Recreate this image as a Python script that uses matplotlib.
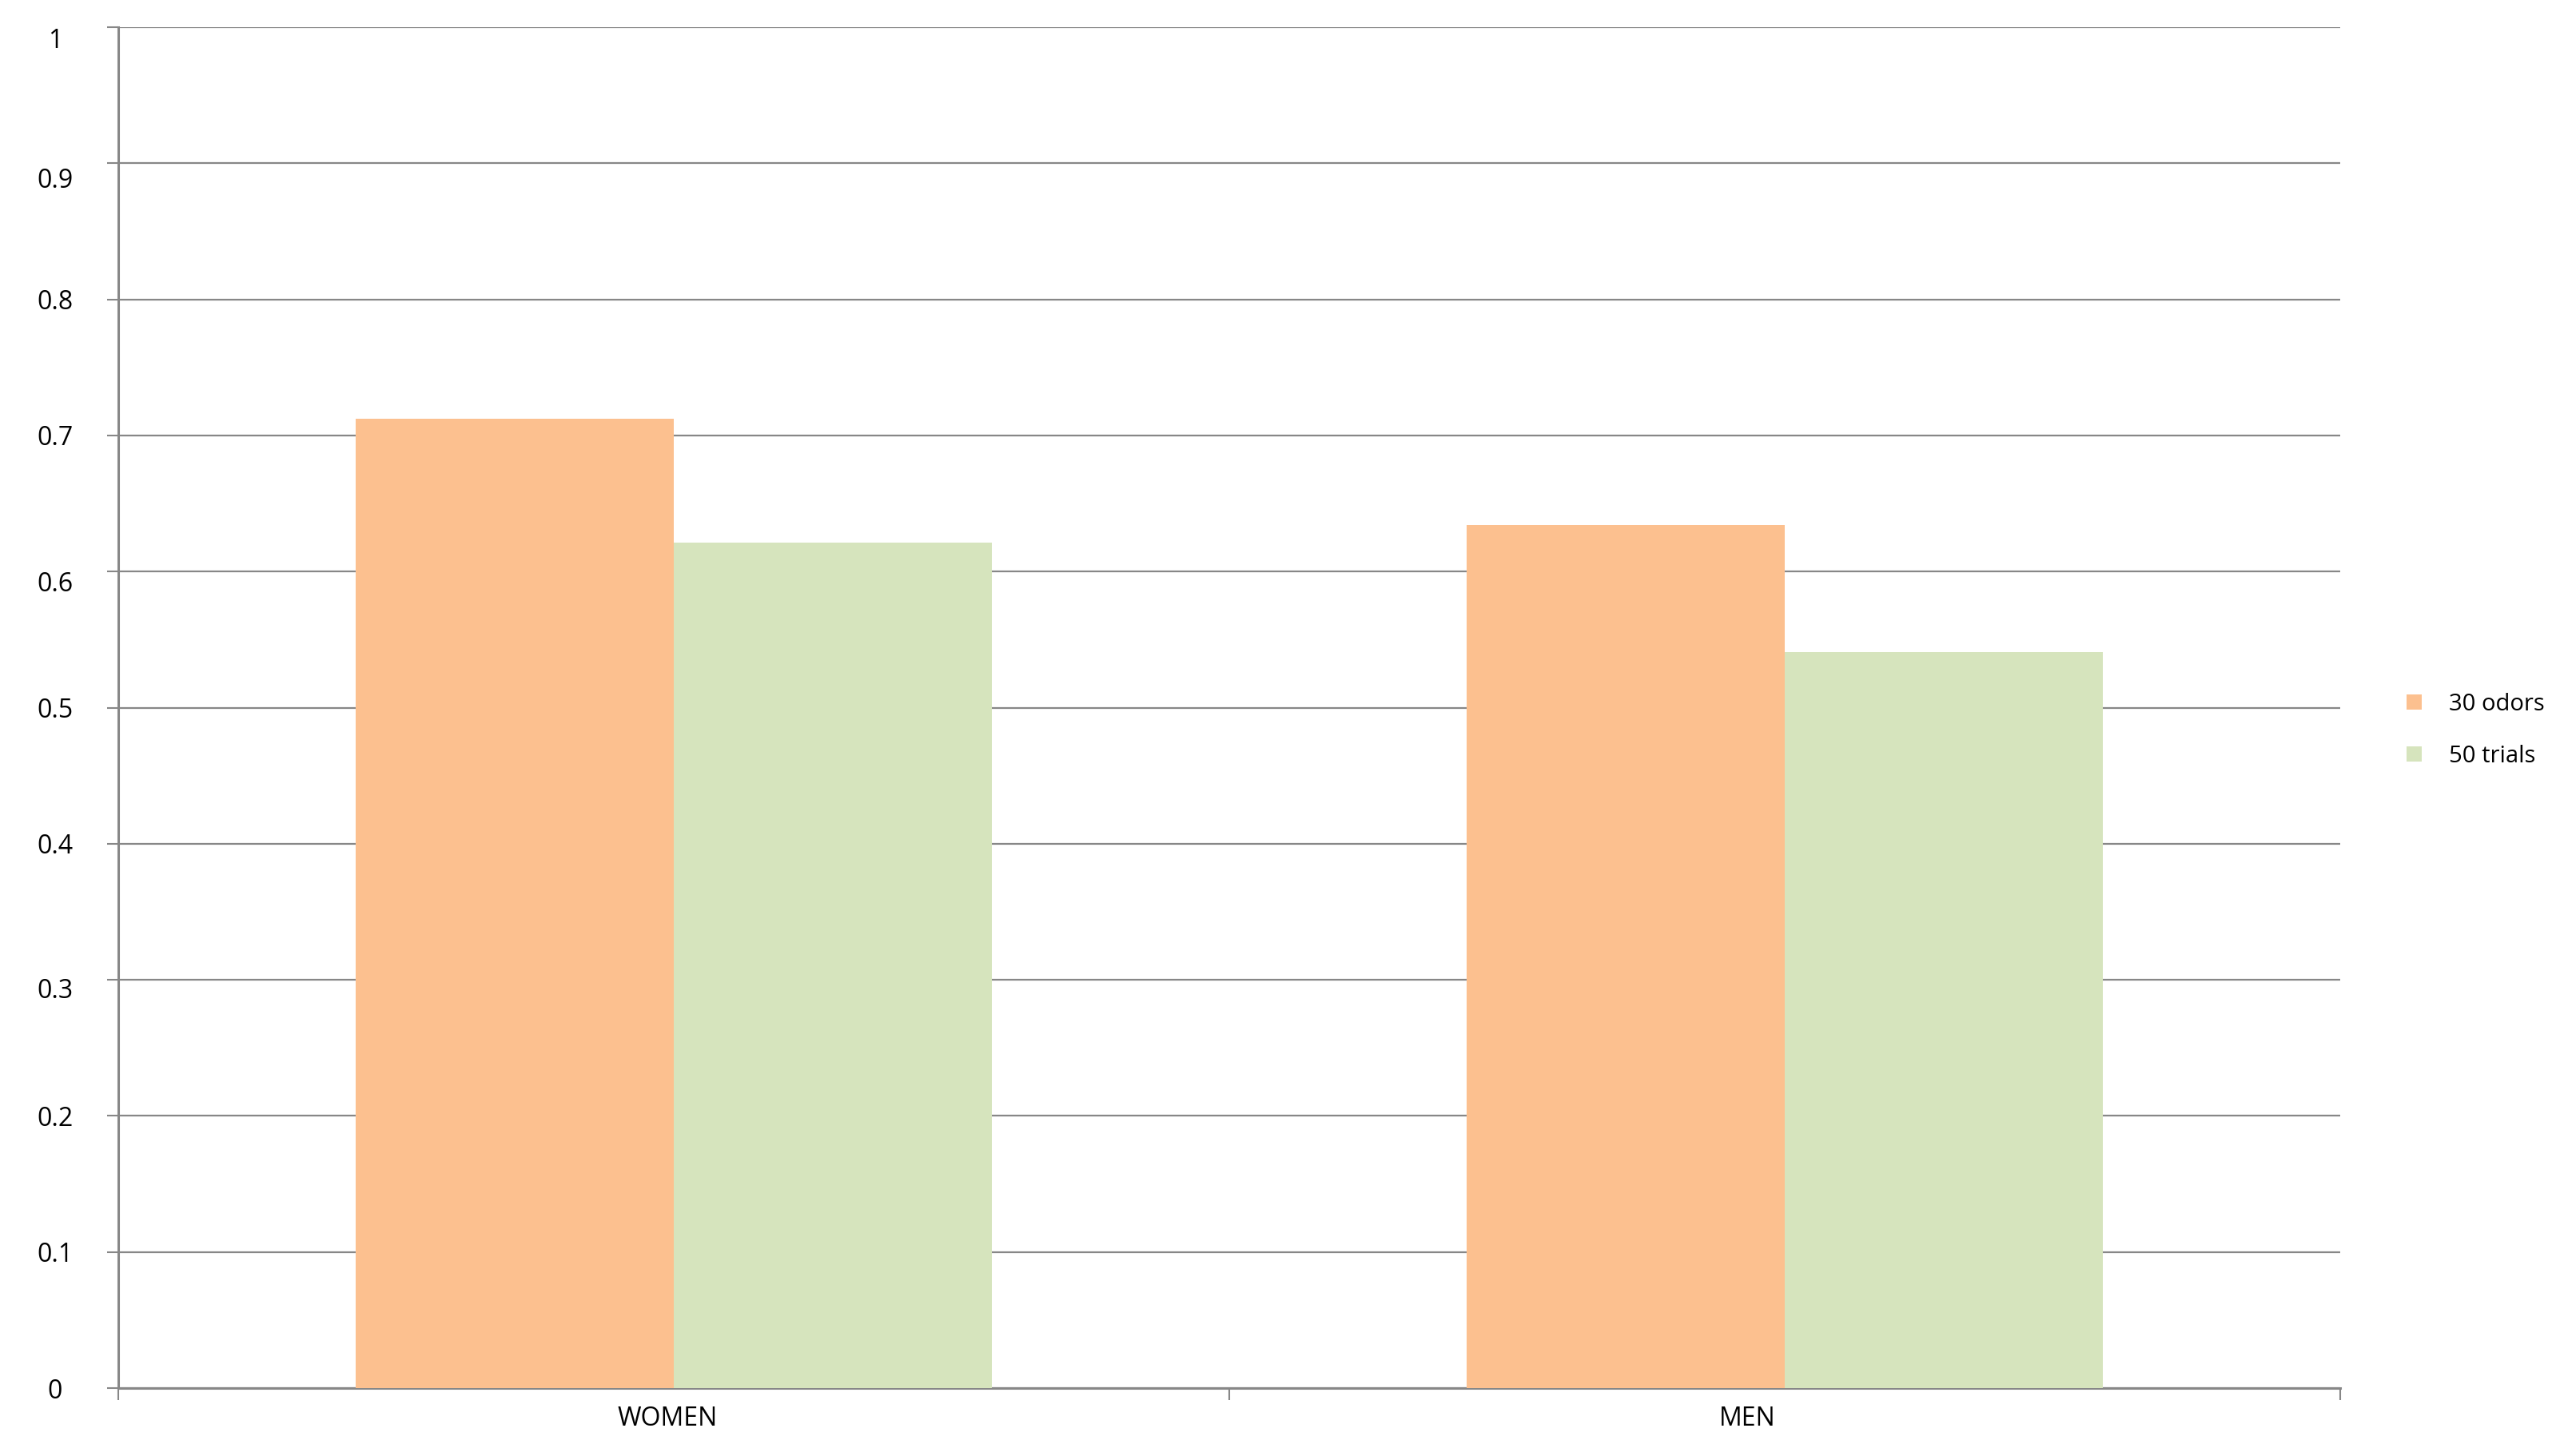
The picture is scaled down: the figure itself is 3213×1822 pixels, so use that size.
import matplotlib
matplotlib.use("Agg")
import matplotlib.pyplot as plt
import matplotlib.transforms as mtransforms
import numpy as np

# data
categories = ["WOMEN", "MEN"]
series_names = ["30 odors", "50 trials"]
odors_30 = [0.712, 0.634]
trials_50 = [0.621, 0.541]
y_ticks = [0, 0.1, 0.2, 0.3, 0.4, 0.5, 0.6, 0.7, 0.8, 0.9, 1]
y_tick_labels = ["0", "0.1", "0.2", "0.3", "0.4", "0.5", "0.6", "0.7", "0.8", "0.9", "1"]

ORANGE = "#FCC08F"
GREEN = "#D6E4BD"
GRID = "#878787"

plt.rcParams["font.family"] = ["Open Sans", "DejaVu Sans"]

fig = plt.figure(figsize=(32.13, 18.22), dpi=100)
fig.patch.set_facecolor("white")
ax = fig.add_axes([0.04606, 0.04665, 0.9113 - 0.04606, 0.98134 - 0.04665])

x = np.arange(len(categories))
w = 0.286
ax.bar(x - w / 2, odors_30, width=w, color=ORANGE, label=series_names[0], zorder=3)
ax.bar(x + w / 2, trials_50, width=w, color=GREEN, label=series_names[1], zorder=3)

ax.set_xlim(-0.5, len(categories) - 0.5)
ax.set_ylim(0, 1)

# y axis
ax.set_yticks(y_ticks)
ax.set_yticklabels(y_tick_labels)
ax.tick_params(axis="y", direction="out", length=10, width=1.5, color=GRID,
               labelsize=23, pad=47)
# small vertical nudges the way the original renderer placed them (pixels)
y_nudge = [0, 0, 0, -10, 0, 0, -12, 0, 0, -18, -14]
for lbl, dy in zip(ax.get_yticklabels(), y_nudge):
    lbl.set_horizontalalignment("center")
    lbl.set_transform(lbl.get_transform()
                      + mtransforms.ScaledTranslation(0, dy / 100, fig.dpi_scale_trans))
ax.yaxis.grid(True, color=GRID, linewidth=1.6, zorder=0)
ax.set_axisbelow(True)

# x axis: ticks on category boundaries, labels at centres
ax.set_xticks(np.arange(-0.5, len(categories), 1.0))
ax.set_xticklabels([])
ax.set_xticks(x, minor=True)
ax.set_xticklabels(categories, minor=True)
ax.tick_params(axis="x", which="major", direction="out", length=11, width=1.5, color=GRID)
ax.tick_params(axis="x", which="minor", length=0, labelsize=23, pad=16)
x_nudge = [-8, -47]
for lbl, dx in zip(ax.get_xticklabels(minor=True), x_nudge):
    lbl.set_transform(lbl.get_transform()
                      + mtransforms.ScaledTranslation(dx / 100, 0, fig.dpi_scale_trans))

for name in ("top", "right"):
    ax.spines[name].set_visible(False)
for name in ("left", "bottom"):
    ax.spines[name].set_color(GRID)
    ax.spines[name].set_linewidth(2.2)

leg = fig.legend(loc="center left", bbox_to_anchor=(0.929, 0.4985), frameon=False,
                 fontsize=21, handlelength=0.65, handleheight=0.65,
                 handletextpad=1.15, labelspacing=1.25)

fig.savefig("out.png", dpi=100, facecolor="white")
